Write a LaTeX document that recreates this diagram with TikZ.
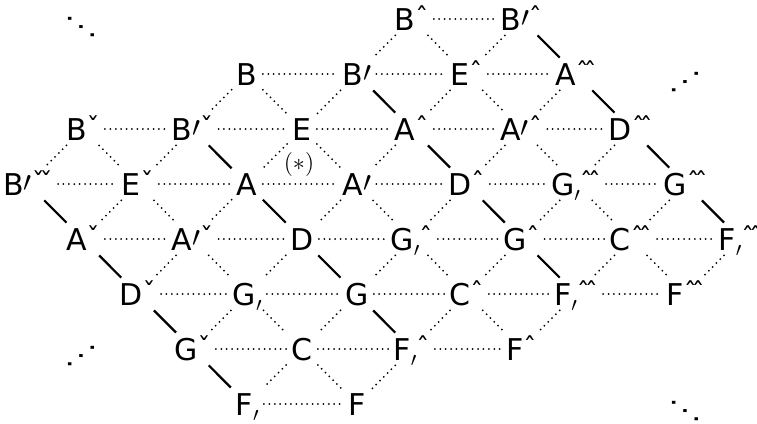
\documentclass[tikz,border=0pt]{standalone}
\usepackage{fontspec}
\newfontfamily\notefont{DejaVu Sans}
\usetikzlibrary{matrix}

\newcommand\prm{\raisebox{1.8pt}{$\prime$}}
\newcommand\lowc{\raisebox{-3pt}{\fontsize{10}{10}\selectfont$\prime$}}
\newcommand\hup{\raisebox{1.6pt}{\fontsize{13}{13}\selectfont ˆ}}
\newcommand\hupp{\raisebox{1.6pt}{\fontsize{13}{13}\selectfont ˆ\kern-2.6ptˆ}}
\newcommand\hdn{\raisebox{1.6pt}{\fontsize{13}{13}\selectfont ˇ}}
\newcommand\hdnn{\raisebox{1.6pt}{\fontsize{13}{13}\selectfont ˇ\kern-2.6ptˇ}}
\newcommand\dn{\scalebox{1.13}[0.8]{⋱}}
\newcommand\up{\scalebox{1.13}[0.8]{⋰}}

\tikzset{
  note/.style={font=\notefont\fontsize{15}{18}\selectfont, text height=11pt, text depth=0pt, inner xsep=2.5pt, inner ysep=2.5pt, anchor=center},
  dotline/.style={line width=1pt, line cap=round, dash pattern=on 0pt off 2.7pt},
  solidline/.style={line width=1.1pt},
  etc/.style={font=\notefont\fontsize{15}{15}\selectfont, inner sep=0pt},
}

\begin{document}
\begin{tikzpicture}[x=0.5pt,y=-0.5pt]
  \useasboundingbox (0,0) rectangle (757,424);
  \matrix (m) [matrix of nodes, nodes={note}, column sep={27.4pt,between origins}, row sep={27.5pt,between origins}, matrix anchor=m-4-1.center] at (28,184)
  {
& & & & & & & B\hup & & B\prm\hup & & & & \\
& & & & B & & B\prm & & E\hup & & A\hupp & & & \\
& B\hdn & & B\prm\hdn & & E & & A\hup & & A\prm\hup & & D\hupp & & \\
B\prm\hdnn & & E\hdn & & A & & A\prm & & D\hup & & G\lowc\hupp & & G\hupp & \\
& A\hdn & & A\prm\hdn & & D & & G\lowc\hup & & G\hup & & C\hupp & & F\lowc\hupp \\
& & D\hdn & & G\lowc & & G & & C\hup & & F\lowc\hupp & & F\hupp & \\
& & & G\hdn & & C & & F\lowc\hup & & F\hup & & & & \\
& & & & F\lowc & & F & & & & & & & \\
};
  % rows
  \path[dotline]
  (m-1-8) edge (m-1-10)
  (m-2-5) edge (m-2-7) (m-2-7) edge (m-2-9) (m-2-9) edge (m-2-11)
  (m-3-2) edge (m-3-4) (m-3-4) edge (m-3-6) (m-3-6) edge (m-3-8) (m-3-8) edge (m-3-10) (m-3-10) edge (m-3-12)
  (m-4-1) edge (m-4-3) (m-4-3) edge (m-4-5) (m-4-5) edge (m-4-7) (m-4-7) edge (m-4-9) (m-4-9) edge (m-4-11) (m-4-11) edge (m-4-13)
  (m-5-2) edge (m-5-4) (m-5-4) edge (m-5-6) (m-5-6) edge (m-5-8) (m-5-8) edge (m-5-10) (m-5-10) edge (m-5-12) (m-5-12) edge (m-5-14)
  (m-6-3) edge (m-6-5) (m-6-5) edge (m-6-7) (m-6-7) edge (m-6-9) (m-6-9) edge (m-6-11) (m-6-11) edge (m-6-13)
  (m-7-4) edge (m-7-6) (m-7-6) edge (m-7-8) (m-7-8) edge (m-7-10)
  (m-8-5) edge (m-8-7)
  ;
  % diagonals
  \path[dotline]
  (m-1-8) edge (m-2-7) (m-1-8) edge (m-2-9) (m-1-10) edge (m-2-9)
  (m-2-5) edge (m-3-4) (m-2-5) edge (m-3-6) (m-2-7) edge (m-3-6) (m-2-9) edge (m-3-8) (m-2-9) edge (m-3-10) (m-2-11) edge (m-3-10)
  (m-3-2) edge (m-4-1) (m-3-2) edge (m-4-3) (m-3-4) edge (m-4-3) (m-3-6) edge (m-4-5) (m-3-6) edge (m-4-7) (m-3-8) edge (m-4-7) (m-3-10) edge (m-4-9) (m-3-10) edge (m-4-11) (m-3-12) edge (m-4-11)
  (m-4-3) edge (m-5-2) (m-4-3) edge (m-5-4) (m-4-5) edge (m-5-4) (m-4-7) edge (m-5-6) (m-4-7) edge (m-5-8) (m-4-9) edge (m-5-8) (m-4-11) edge (m-5-10) (m-4-11) edge (m-5-12) (m-4-13) edge (m-5-12)
  (m-5-4) edge (m-6-3) (m-5-4) edge (m-6-5) (m-5-6) edge (m-6-5) (m-5-8) edge (m-6-7) (m-5-8) edge (m-6-9) (m-5-10) edge (m-6-9) (m-5-12) edge (m-6-11) (m-5-12) edge (m-6-13) (m-5-14) edge (m-6-13)
  (m-6-5) edge (m-7-4) (m-6-5) edge (m-7-6) (m-6-7) edge (m-7-6) (m-6-9) edge (m-7-8) (m-6-9) edge (m-7-10) (m-6-11) edge (m-7-10)
  (m-7-6) edge (m-8-5) (m-7-6) edge (m-8-7) (m-7-8) edge (m-8-7)
  ;
  \path[solidline]
  (m-1-10) edge (m-2-11) (m-2-11) edge (m-3-12) (m-3-12) edge (m-4-13) (m-4-13) edge (m-5-14)
  (m-2-7) edge (m-3-8) (m-3-8) edge (m-4-9) (m-4-9) edge (m-5-10) (m-5-10) edge (m-6-11)
  (m-3-4) edge (m-4-5) (m-4-5) edge (m-5-6) (m-5-6) edge (m-6-7) (m-6-7) edge (m-7-8)
  (m-4-1) edge (m-5-2) (m-5-2) edge (m-6-3) (m-6-3) edge (m-7-4) (m-7-4) edge (m-8-5)
  ;
  \node (star) at (299,164) {\fontsize{12}{14}\selectfont$(*)$};
  \node[etc] (ul) at (81,27) {\dn};
  \node[etc] (ur) at (685,82) {\up};
  \node[etc] (ll) at (81,356) {\up};
  \node[etc] (lr) at (685,411) {\dn};
\end{tikzpicture}
\end{document}
